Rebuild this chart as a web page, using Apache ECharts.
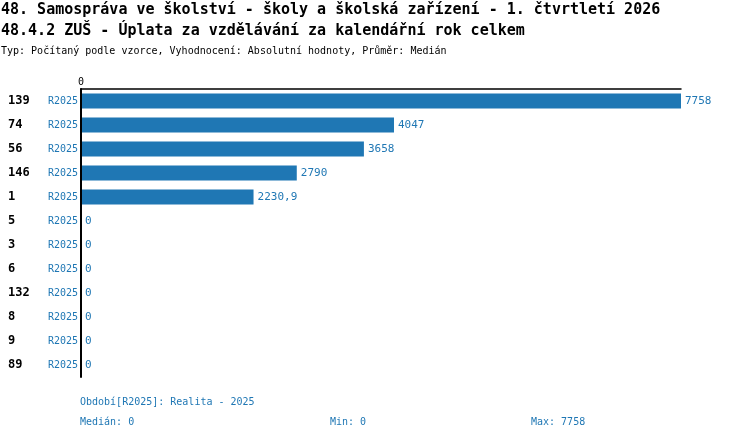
<!DOCTYPE html>
<html>
<head>
<meta charset="utf-8">
<script src="https://cdn.jsdelivr.net/npm/echarts@6.0.0/dist/echarts.min.js"></script>
<style>
  html, body { margin: 0; padding: 0; background: #fff; }
  #chart { width: 750px; height: 440px; }
</style>
</head>
<body>
<div id="chart"></div>
<script>
// data
const titleLine1 = "48. Samospráva ve školství - školy a školská zařízení - 1. čtvrtletí 2026";
const titleLine2 = "48.4.2 ZUŠ - Úplata za vzdělávání za kalendářní rok celkem";
const subtitle = "Typ: Počítaný podle vzorce, Vyhodnocení: Absolutní hodnoty, Průměr: Medián";

const codes = ["139", "74", "56", "146", "1", "5", "3", "6", "132", "8", "9", "89"];
const periods = ["R2025", "R2025", "R2025", "R2025", "R2025", "R2025", "R2025", "R2025", "R2025", "R2025", "R2025", "R2025"];
const values = [7758, 4047, 3658, 2790, 2230.9, 0, 0, 0, 0, 0, 0, 0];

const periodNote = "Období[R2025]: Realita - 2025";
const statMedian = "Medián: 0";
const statMin = "Min: 0";
const statMax = "Max: 7758";

const MONO = "'DejaVu Sans Mono', 'Liberation Mono', monospace";
const BLUE = "#1f77b4";

const chart = echarts.init(document.getElementById("chart"), null, { renderer: "canvas" });

const option = {
  backgroundColor: "#fff",
  animation: false,
  textStyle: { fontFamily: MONO },
  grid: { left: 81, right: 69, top: 89, bottom: 63, containLabel: false },
  xAxis: {
    type: "value",
    position: "top",
    min: 0,
    max: 7758,
    interval: 7758,
    axisLine: { show: true, lineStyle: { color: "#000", width: 1.5 } },
    axisTick: { show: false },
    splitLine: { show: false },
    axisLabel: {
      color: "#000", fontFamily: MONO, fontSize: 10, margin: 2,
      formatter: v => (v === 0 ? "0" : "")
    }
  },
  yAxis: {
    type: "category",
    inverse: true,
    data: codes,
    axisLine: { show: true, lineStyle: { color: "#000", width: 2 } },
    axisTick: { show: false },
    splitLine: { show: false },
    z: 5,
    axisLabel: {
      margin: 3,
      formatter: (v, i) => `{c|${v}}{p|${periods[i]}}`,
      rich: {
        c: { fontFamily: MONO, fontWeight: "bold", fontSize: 12, color: "#000", width: 38, align: "left" },
        p: { fontFamily: MONO, fontSize: 10, color: BLUE, width: 32, align: "right" }
      }
    }
  },
  series: [
    {
      type: "bar",
      data: values,
      barWidth: 15,
      itemStyle: { color: BLUE },
      label: {
        show: true,
        position: "right",
        distance: 4,
        color: BLUE,
        fontFamily: MONO,
        fontSize: 11,
        formatter: p => String(p.value).replace(".", ",")
      }
    }
  ],
  graphic: [
    { type: "text", left: 1, top: 3, style: { text: titleLine1, font: `bold 15px ${MONO}`, fill: "#000" } },
    { type: "text", left: 1, top: 24, style: { text: titleLine2, font: `bold 15px ${MONO}`, fill: "#000" } },
    { type: "text", left: 1, top: 46, style: { text: subtitle, font: `10px ${MONO}`, fill: "#000" } },
    { type: "text", left: 80, top: 397, style: { text: periodNote, font: `10px ${MONO}`, fill: BLUE } },
    { type: "text", left: 80, top: 417, style: { text: statMedian, font: `10px ${MONO}`, fill: BLUE } },
    { type: "text", left: 330, top: 417, style: { text: statMin, font: `10px ${MONO}`, fill: BLUE } },
    { type: "text", left: 531, top: 417, style: { text: statMax, font: `10px ${MONO}`, fill: BLUE } }
  ]
};

chart.setOption(option);
</script>
</body>
</html>
